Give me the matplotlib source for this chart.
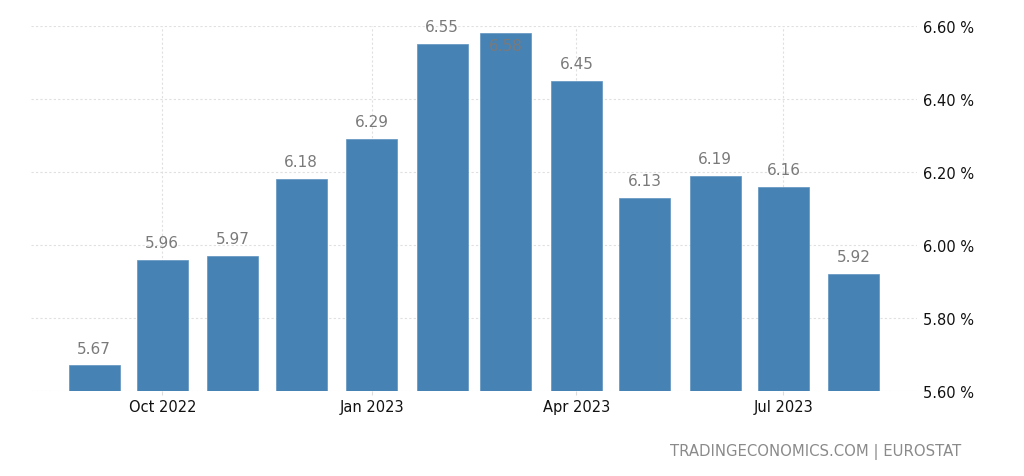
import matplotlib
matplotlib.use("Agg")
import matplotlib.pyplot as plt
import matplotlib.dates as mdates
import numpy as np
import datetime as dt

months = ["2022-09", "2022-10", "2022-11", "2022-12", "2023-01", "2023-02",
          "2023-03", "2023-04", "2023-05", "2023-06", "2023-07", "2023-08"]
values = [5.67, 5.96, 5.97, 6.18, 6.29, 6.55, 6.58, 6.45, 6.13, 6.19, 6.16, 5.92]
yticks = [5.60, 5.80, 6.00, 6.20, 6.40, 6.60]
xtick_months = ["2022-10", "2023-01", "2023-04", "2023-07"]
source = "TRADINGECONOMICS.COM | EUROSTAT"

def to_date(s):
    y, m = s.split("-")
    return dt.date(int(y), int(m), 1)

dates = [to_date(m) for m in months]
xnum = mdates.date2num(dates)

fig = plt.figure(figsize=(10.24, 4.77), dpi=100)
ax = fig.add_axes([31/1024, (477-392)/477, (917-31)/1024, (392-27)/477])

bar_color = "#4682b4"
ax.bar(xnum, values, width=22.4, color=bar_color, edgecolor="#5f93c0",
       linewidth=0.5, zorder=3)

ylo, yhi = 5.60, 6.60
ax.set_ylim(ylo, yhi)
ax.set_xlim(xnum[0] - 27.7, xnum[-1] + 27.7)

for x, v in zip(xnum, values):
    if v + 0.045 > yhi:
        ax.annotate(f"{v:.2f}", (x, v), xytext=(0, -8.5), textcoords="offset points",
                    ha="center", va="center", fontsize=11, color="#7a7a7a",
                    zorder=4, annotation_clip=False)
    else:
        ax.annotate(f"{v:.2f}", (x, v), xytext=(0, 12.5), textcoords="offset points",
                    ha="center", va="center", fontsize=11, color="#7a7a7a",
                    zorder=4, annotation_clip=False)

ax.yaxis.tick_right()
ax.set_yticks(yticks)
ax.set_yticklabels([f"{t:.2f} %" for t in yticks])
xt = mdates.date2num([to_date(m) for m in xtick_months])
ax.set_xticks(xt)
ax.set_xticklabels([to_date(m).strftime("%b %Y") for m in xtick_months])

ax.tick_params(axis="y", length=0, pad=4, labelsize=10.5, labelcolor="#111111")
ax.tick_params(axis="x", length=3, width=0.8, color="#dddddd", pad=3,
               labelsize=10.5, labelcolor="#111111")

ax.grid(True, axis="both", color="#e0e0e0", linestyle=(0, (2, 2)), linewidth=0.8, zorder=0)
for s in ax.spines.values():
    s.set_visible(False)

fig.text(961/1024, 1 - 452/477, source, ha="right", va="center",
         fontsize=10.7, color="#8a8a8a")

fig.savefig("out.png", dpi=100)
